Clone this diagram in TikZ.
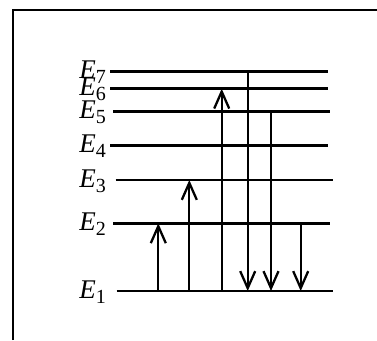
\documentclass[tikz,border=0pt]{standalone}
\usepackage{fontspec}
\setmainfont{Liberation Serif}
\usetikzlibrary{arrows.meta, positioning}
\tikzset{
  level/.style={line width=2.8pt},
  jump/.style={line width=2.3pt, -{Straight Barb[length=17pt, width=15pt, line width=2.3pt]}},
  lbl/.style={anchor=base east, inner sep=0pt, font=\fontsize{27}{27}\selectfont},
}
\newcommand\lev[1]{\textit{E}\raisebox{-5pt}{\fontsize{20}{20}\selectfont #1}}

\begin{document}
\begin{tikzpicture}[x=1pt, y=-1pt]
  \useasboundingbox (0,0) rectangle (377,340);
  % frame
  \draw[line width=2.4pt] (13,340) -- (13,10) -- (377,10);
  % energy levels
  \foreach \n/\y/\a/\b in {7/71.3/110/328, 6/88.7/110/328, 5/111.3/113/330,
      4/145.7/110/328, 3/180/115.7/333, 2/223.3/113/330, 1/291/116.7/333} {
    \coordinate (l\n) at (\a,\y);
    \coordinate (r\n) at (\b,\y);
    \draw[level] (l\n) -- (r\n);
    \node[lbl] (e\n) at (106,\y+7) {\lev{\n}};
  }
  % absorption
  \draw[jump] (158.3,0 |- l1) -- (158.3,0 |- l2);
  \draw[jump] (189.3,0 |- l1) -- (189.3,0 |- l3);
  \draw[jump] (221.7,0 |- l1) -- (221.7,0 |- l6);
  % emission
  \draw[jump] (247.7,0 |- l7) -- (247.7,0 |- l1);
  \draw[jump] (271,0 |- l5) -- (271,0 |- l1);
  \draw[jump] (300.7,0 |- l2) -- (300.7,0 |- l1);
\end{tikzpicture}
\end{document}
